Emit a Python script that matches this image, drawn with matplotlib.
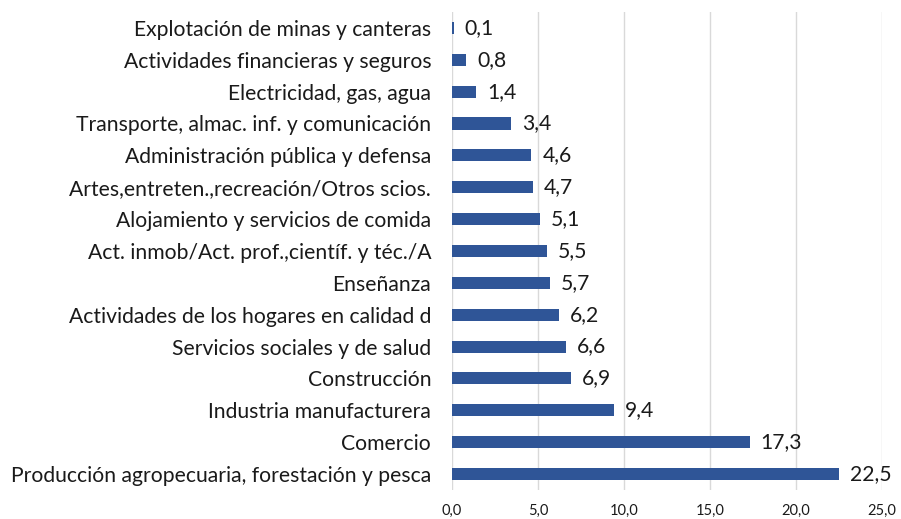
import matplotlib
matplotlib.use("Agg")
import matplotlib.pyplot as plt

categories = [
    "Explotación de minas y canteras",
    "Actividades financieras y seguros",
    "Electricidad, gas, agua",
    "Transporte, almac. inf. y comunicación",
    "Administración pública y defensa",
    "Artes,entreten.,recreación/Otros scios.",
    "Alojamiento y servicios de comida",
    "Act. inmob/Act. prof.,científ. y téc./A",
    "Enseñanza",
    "Actividades de los hogares en calidad d",
    "Servicios sociales y de salud",
    "Construcción",
    "Industria manufacturera",
    "Comercio",
    "Producción agropecuaria, forestación y pesca",
]
values = [0.1, 0.8, 1.4, 3.4, 4.6, 4.7, 5.1, 5.5, 5.7, 6.2, 6.6, 6.9, 9.4, 17.3, 22.5]
xticks = [0, 5, 10, 15, 20, 25]

plt.rcParams['font.family'] = ['Lato', 'DejaVu Sans']
fig = plt.figure(figsize=(9.01, 5.19), dpi=100)
ax = fig.add_axes([0.5017, 0.0559, 0.979 - 0.5017, 0.977 - 0.0559])

y = list(range(len(categories)))
ax.barh(y, values, height=0.38, color="#2F5597")
ax.set_ylim(len(categories) - 0.5, -0.5)
ax.set_xlim(0, 25)
ax.set_yticks(y)
ax.set_yticklabels(categories, fontsize=15.2, color="#1a1a1a")
ax.set_xticks(xticks)
ax.set_xticklabels([f"{t:.1f}".replace(".", ",") for t in xticks], fontsize=10.5, color="#1a1a1a")
ax.tick_params(axis='both', length=0)
ax.tick_params(axis='y', pad=15)
ax.tick_params(axis='x', pad=10)
for s in ax.spines.values():
    s.set_visible(False)
ax.grid(axis='x', color="#d9d9d9", linewidth=1)
ax.set_axisbelow(True)

for yi, v in zip(y, values):
    ax.annotate(f"{v:.1f}".replace(".", ","), (v, yi), xytext=(8, 0), textcoords="offset points",
                va="center", ha="left", fontsize=15.2, color="#1a1a1a")

fig.savefig("out.png", dpi=100)
